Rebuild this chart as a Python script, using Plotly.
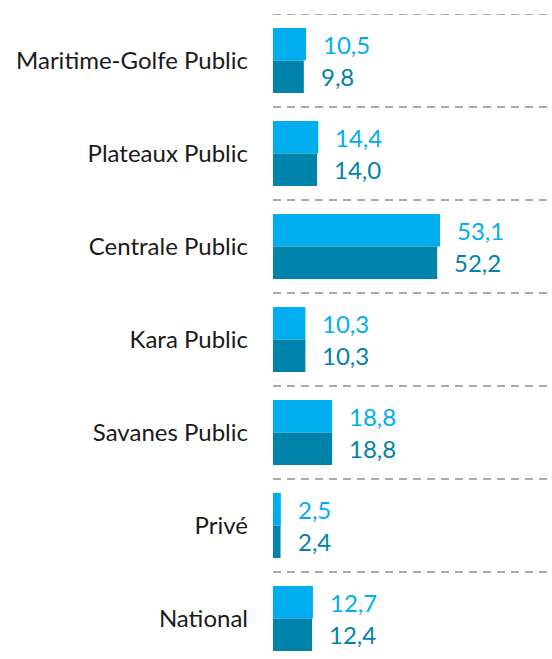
import plotly.graph_objects as go

categories = ["Maritime-Golfe Public", "Plateaux Public", "Centrale Public",
              "Kara Public", "Savanes Public", "Privé", "National"]
series_a = [10.5, 14.4, 53.1, 10.3, 18.8, 2.5, 12.7]
series_b = [9.8, 14.0, 52.2, 10.3, 18.8, 2.4, 12.4]

col_a = "#00AEEF"
col_b = "#0083AA"

fig = go.Figure()
fig.add_trace(go.Bar(y=categories, x=series_a, orientation="h",
                     marker=dict(color=col_a, line=dict(width=0)), name="A"))
fig.add_trace(go.Bar(y=categories, x=series_b, orientation="h",
                     marker=dict(color=col_b, line=dict(width=0)), name="B"))

def fmt(v):
    return f"{v:.1f}".replace(".", ",")

annotations = []
for c, a, b in zip(categories, series_a, series_b):
    annotations.append(dict(x=a, y=c, text=fmt(a), showarrow=False, xanchor="left",
                            yanchor="middle", xshift=15, yshift=16,
                            font=dict(family="Lato", size=24, color=col_a)))
    annotations.append(dict(x=b, y=c, text=fmt(b), showarrow=False, xanchor="left",
                            yanchor="middle", xshift=15, yshift=-16,
                            font=dict(family="Lato", size=24, color=col_b)))

shapes = []
for k in range(len(categories)):
    shapes.append(dict(type="line", xref="paper", x0=0, x1=1, yref="y",
                       y0=k - 0.5, y1=k - 0.5,
                       line=dict(color="#AAAAAA", width=2, dash="8px,6px")))

fig.update_layout(
    width=552, height=659,
    margin=dict(l=273, r=0, t=14, b=0),
    barmode="group", bargap=0.3, bargroupgap=0,
    showlegend=False,
    plot_bgcolor="white", paper_bgcolor="white",
    annotations=annotations, shapes=shapes,
    font=dict(family="Lato", color="#1a1a1a"),
    xaxis=dict(range=[0, 88.7], visible=False, showgrid=False, zeroline=False),
    yaxis=dict(range=[6.4355, -0.5], showgrid=False, zeroline=False, showline=False,
               ticks="", ticklabelstandoff=24,
               tickfont=dict(family="Lato", size=24, color="#1a1a1a")),
)

fig.write_html("out.html", config={"displayModeBar": False},
               post_script="document.body.style.margin='0';document.body.style.overflow='hidden';")
